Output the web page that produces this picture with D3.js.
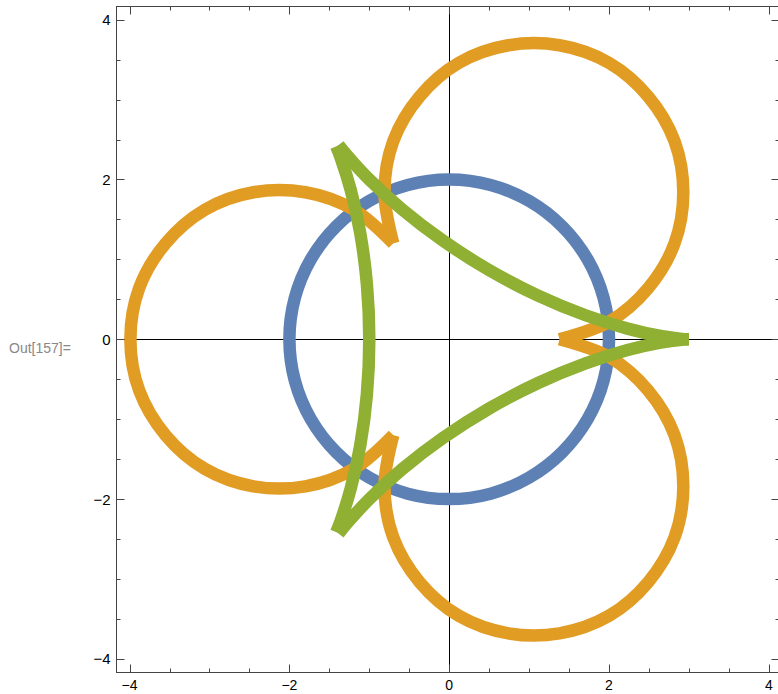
<!DOCTYPE html>
<html>
<head>
<meta charset="utf-8">
<script src="https://cdn.jsdelivr.net/npm/d3@7"></script>
<style>
  body { margin: 0; background: #fff; }
  text { font-family: "Liberation Sans", Arial, sans-serif; }
</style>
</head>
<body>
<svg width="778" height="694"></svg>
<script>
// ticks
const majorTicks = [-4, -2, 0, 2, 4];
const minorTicks = [-3.5, -3, -2.5, -1.5, -1, -0.5, 0.5, 1, 1.5, 2.5, 3, 3.5];

// blue circle, radius 2
const bluePoints = [
  [2, 0], [1.932, 0.518], [1.732, 1], [1.414, 1.414], [1, 1.732], [0.518, 1.932],
  [0, 2], [-0.518, 1.932], [-1, 1.732], [-1.414, 1.414], [-1.732, 1], [-1.932, 0.518],
  [-2, 0], [-1.932, -0.518], [-1.732, -1], [-1.414, -1.414], [-1, -1.732], [-0.518, -1.932],
  [0, -2], [0.518, -1.932], [1, -1.732], [1.414, -1.414], [1.732, -1], [1.932, -0.518]
];

// orange: three loops, meeting at sharp corners
const orangeTop = [
  [1.38, 0], [2.0, 0.22], [2.49, 0.64], [2.82, 1.2], [2.93, 1.84], [2.82, 2.48],
  [2.49, 3.04], [2.0, 3.46], [1.38, 3.68], [0.74, 3.68], [0.12, 3.46], [-0.37, 3.04],
  [-0.7, 2.48], [-0.81, 1.84], [-0.7, 1.2]
];
const orangeLeft = [
  [-0.7, 1.2], [-1.19, 1.62], [-1.8, 1.84], [-2.45, 1.84], [-3.06, 1.62], [-3.55, 1.2],
  [-3.88, 0.64], [-3.99, 0], [-3.88, -0.64], [-3.55, -1.2], [-3.06, -1.62], [-2.45, -1.84],
  [-1.8, -1.84], [-1.19, -1.62], [-0.7, -1.2]
];
const orangeBottom = [
  [-0.7, -1.2], [-0.81, -1.84], [-0.7, -2.48], [-0.37, -3.04], [0.12, -3.46], [0.74, -3.68],
  [1.38, -3.68], [2.0, -3.46], [2.49, -3.04], [2.82, -2.48], [2.93, -1.84], [2.82, -1.2],
  [2.49, -0.64], [2.0, -0.22], [1.38, 0]
];

// green: three-cusped curve, tips at the left are cut short
const greenUpper = [
  [3, 0], [2.909, 0.005], [2.645, 0.041], [2.232, 0.134], [1.706, 0.301], [1.112, 0.547],
  [0.5, 0.866], [-0.082, 1.237], [-0.592, 1.628], [-1, 2], [-1.287, 2.312], [-1.384, 2.432]
];
const greenLeft = [
  [-1.414, 2.414], [-1.358, 2.271], [-1.232, 1.866], [-1.113, 1.327], [-1.03, 0.689], [-1, 0],
  [-1.03, -0.689], [-1.113, -1.327], [-1.232, -1.866], [-1.358, -2.271], [-1.414, -2.414]
];
const greenLower = [
  [-1.384, -2.432], [-1.287, -2.312], [-1, -2], [-0.592, -1.628], [-0.082, -1.237], [0.5, -0.866],
  [1.112, -0.547], [1.706, -0.301], [2.232, -0.134], [2.645, -0.041], [2.909, -0.005], [3, 0]
];

const svg = d3.select("svg");

const x = d3.scaleLinear().domain([-4.17, 4.17]).range([116, 782.4]);
const y = d3.scaleLinear().domain([-4.17, 4.17]).range([672.5, 6.1]);

const frameLeft = 116.5, frameTop = 6.5, frameBottom = 672.5, frameRight = 779.5;

// axes through the origin
svg.append("line")
    .attr("x1", frameLeft).attr("x2", frameRight)
    .attr("y1", Math.round(y(0)) + 0.5).attr("y2", Math.round(y(0)) + 0.5)
    .attr("stroke", "#000").attr("stroke-width", 1);
svg.append("line")
    .attr("x1", Math.round(x(0)) + 0.5).attr("x2", Math.round(x(0)) + 0.5)
    .attr("y1", frameTop).attr("y2", frameBottom)
    .attr("stroke", "#000").attr("stroke-width", 1);

// curves
const line = d3.line()
    .x(function(d) { return x(d[0]); })
    .y(function(d) { return y(d[1]); })
    .curve(d3.curveCatmullRom.alpha(0.5));

const closedLine = d3.line()
    .x(function(d) { return x(d[0]); })
    .y(function(d) { return y(d[1]); })
    .curve(d3.curveCatmullRomClosed.alpha(0.5));

const curves = svg.append("g")
    .attr("fill", "none")
    .attr("stroke-width", 12.5)
    .attr("stroke-linecap", "butt");

curves.append("path")
    .attr("d", closedLine(bluePoints))
    .attr("stroke", "#5E81B5");

[orangeTop, orangeLeft, orangeBottom].forEach(function(pts) {
    curves.append("path")
        .attr("d", line(pts))
        .attr("stroke", "#E19C24");
});

[greenUpper, greenLeft, greenLower].forEach(function(pts) {
    curves.append("path")
        .attr("d", line(pts))
        .attr("stroke", "#8FB032");
});

// frame with inward ticks
const frame = svg.append("g");

frame.append("rect")
    .attr("x", frameLeft).attr("y", frameTop)
    .attr("width", frameRight - frameLeft).attr("height", frameBottom - frameTop)
    .attr("fill", "none").attr("stroke", "#444").attr("stroke-width", 1);

function ticks(g, vals, len) {
    vals.forEach(function(v) {
        const px = Math.round(x(v)) + 0.5;
        const py = Math.round(y(v)) + 0.5;
        g.append("line").attr("x1", px).attr("x2", px).attr("y1", frameBottom).attr("y2", frameBottom - len);
        g.append("line").attr("x1", px).attr("x2", px).attr("y1", frameTop).attr("y2", frameTop + len);
        g.append("line").attr("y1", py).attr("y2", py).attr("x1", frameLeft).attr("x2", frameLeft + len);
        g.append("line").attr("y1", py).attr("y2", py).attr("x1", frameRight).attr("x2", frameRight - len);
    });
}
const tickG = frame.append("g").attr("stroke", "#444").attr("stroke-width", 1);
ticks(tickG, majorTicks, 8);
ticks(tickG, minorTicks, 4);

const fmt = d3.format("d");

frame.append("g").selectAll("text")
    .data(majorTicks)
    .enter().append("text")
    .attr("x", function(d) { return x(d); })
    .attr("y", frameBottom + 8)
    .attr("dy", "0.71em")
    .attr("text-anchor", "middle")
    .attr("font-size", 14)
    .attr("fill", "#000")
    .text(fmt);

frame.append("g").selectAll("text")
    .data(majorTicks)
    .enter().append("text")
    .attr("x", frameLeft - 6)
    .attr("y", function(d) { return y(d); })
    .attr("dy", "0.36em")
    .attr("text-anchor", "end")
    .attr("font-size", 15)
    .attr("fill", "#000")
    .text(fmt);

svg.append("text")
    .attr("x", 9)
    .attr("y", 353)
    .attr("font-size", 14)
    .attr("fill", "#888")
    .text("Out[157]=");
</script>
</body>
</html>
